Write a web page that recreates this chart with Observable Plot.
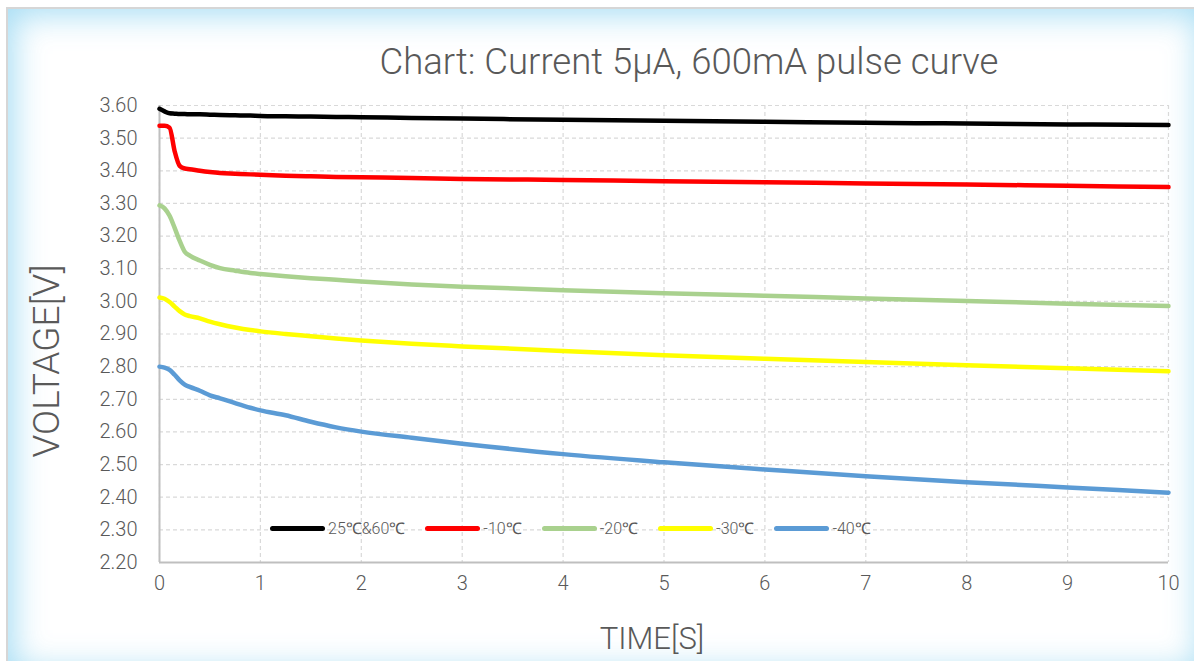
<!DOCTYPE html>
<html>
<head>
<meta charset="utf-8">
<script src="https://cdn.jsdelivr.net/npm/d3@7"></script>
<script src="https://cdn.jsdelivr.net/npm/@observablehq/plot@0.6"></script>
<style>
  html, body { margin: 0; padding: 0; width: 1194px; height: 661px; overflow: hidden; background: #fff; }
  #frame { position: absolute; left: 6px; top: 7px; width: 1200px; height: 670px; border: 2px solid #d6d6d6; box-sizing: border-box;
           box-shadow: inset 0 0 32px 6px rgba(150, 215, 242, 0.85); background: #fff; }
  #chart { position: absolute; left: 0; top: 0; }
  .txt { position: absolute; font-family: Roboto, "Liberation Sans", sans-serif; font-weight: 300; color: #595959; white-space: nowrap; }
  #title { left: 689px; top: 40px; transform: translateX(-50%); font-size: 36.5px; }
  #xlabel { left: 652px; top: 620px; transform: translateX(-50%); font-size: 31px; }
  #ylabel { left: 46px; top: 361px; font-size: 37px; transform: translate(-50%, -50%) rotate(-90deg); }
  #legend { position: absolute; left: 270px; top: 517px; display: flex; align-items: center; font-family: Roboto, "Liberation Sans", sans-serif; font-weight: 300; font-size: 16px; color: #595959; }
  .item { display: flex; align-items: center; margin-right: 20px; }
  .sw { width: 55px; height: 5px; border-radius: 3px; margin-right: 3px; }
</style>
</head>
<body>
<div id="frame"></div>
<div id="chart"></div>
<div class="txt" id="title">Chart: Current 5μA, 600mA pulse curve</div>
<div class="txt" id="ylabel">VOLTAGE[V]</div>
<div class="txt" id="xlabel">TIME[S]</div>
<div id="legend"></div>
<script>
const seriesNames = ["25℃&60℃", "-10℃", "-20℃", "-30℃", "-40℃"];
const seriesColors = ["#000000", "#ff0000", "#a9d18e", "#ffff00", "#5b9bd5"];
const time = [0, 0.05, 0.1, 0.15, 0.2, 0.25, 0.3, 0.4, 0.5, 0.6, 0.75, 0.9, 1, 1.25, 1.5, 1.75, 2, 2.5, 3, 4, 5, 6, 7, 8, 9, 10];
const v25 = [3.590, 3.582, 3.576, 3.575, 3.574, 3.574, 3.573, 3.573, 3.572, 3.571, 3.570, 3.569, 3.568, 3.567, 3.566, 3.565, 3.564, 3.562, 3.560, 3.556, 3.553, 3.550, 3.547, 3.545, 3.542, 3.540];
const vM10 = [3.538, 3.538, 3.532, 3.460, 3.415, 3.407, 3.405, 3.400, 3.396, 3.393, 3.391, 3.389, 3.388, 3.385, 3.383, 3.381, 3.380, 3.378, 3.375, 3.372, 3.368, 3.365, 3.361, 3.358, 3.354, 3.350];
const vM20 = [3.294, 3.285, 3.262, 3.225, 3.185, 3.152, 3.140, 3.125, 3.112, 3.102, 3.094, 3.087, 3.084, 3.077, 3.071, 3.066, 3.061, 3.052, 3.045, 3.034, 3.025, 3.017, 3.009, 3.001, 2.993, 2.986];
const vM30 = [3.012, 3.008, 2.998, 2.984, 2.970, 2.960, 2.955, 2.948, 2.938, 2.930, 2.920, 2.912, 2.908, 2.900, 2.893, 2.886, 2.880, 2.870, 2.862, 2.848, 2.835, 2.824, 2.814, 2.804, 2.795, 2.786];
const vM40 = [2.800, 2.797, 2.790, 2.775, 2.758, 2.745, 2.738, 2.726, 2.712, 2.703, 2.688, 2.674, 2.666, 2.651, 2.631, 2.614, 2.601, 2.582, 2.564, 2.532, 2.507, 2.485, 2.464, 2.446, 2.430, 2.414];
const xTicks = [0, 1, 2, 3, 4, 5, 6, 7, 8, 9, 10];
const yTicks = [2.2, 2.3, 2.4, 2.5, 2.6, 2.7, 2.8, 2.9, 3.0, 3.1, 3.2, 3.3, 3.4, 3.5, 3.6];

const allSeries = [v25, vM10, vM20, vM30, vM40];
const rows = [];
allSeries.forEach((vals, i) => vals.forEach((v, j) => rows.push({t: time[j], v, s: seriesNames[i]})));

const font = "Roboto, 'Liberation Sans', sans-serif";
const chart = Plot.plot({
  width: 1194, height: 661,
  marginLeft: 159, marginRight: 26, marginTop: 105, marginBottom: 99,
  style: {background: "transparent", fontFamily: font, overflow: "visible"},
  x: {domain: [0, 10]},
  y: {domain: [2.2, 3.6]},
  color: {domain: seriesNames, range: seriesColors},
  marks: [
    Plot.gridY(yTicks, {stroke: "#d9d9d9", strokeOpacity: 1, strokeWidth: 1.2, strokeDasharray: "4,3"}),
    Plot.gridX(xTicks, {stroke: "#d9d9d9", strokeOpacity: 1, strokeWidth: 1.2, strokeDasharray: "4,3"}),
    Plot.ruleX([0], {stroke: "#bfbfbf", strokeWidth: 2}),
    Plot.ruleY([2.2], {stroke: "#bfbfbf", strokeWidth: 2}),
    Plot.axisY(yTicks, {tickSize: 0, tickPadding: 22, tickFormat: d => d.toFixed(2), fontSize: 20, fill: "#595959", fontWeight: 300, label: null}),
    Plot.axisX(xTicks, {tickSize: 0, tickPadding: 13, tickFormat: d => String(d), fontSize: 20, fill: "#595959", fontWeight: 300, label: null}),
    Plot.line(rows, {x: "t", y: "v", z: "s", stroke: "s", strokeWidth: 4.5, curve: "monotone-x", strokeLinecap: "round", strokeLinejoin: "round"})
  ]
});
document.getElementById("chart").appendChild(chart);

const legend = document.getElementById("legend");
seriesNames.forEach((n, i) => {
  const it = document.createElement("div"); it.className = "item";
  const sw = document.createElement("div"); sw.className = "sw"; sw.style.background = seriesColors[i];
  const lb = document.createElement("span"); lb.textContent = n;
  it.appendChild(sw); it.appendChild(lb); legend.appendChild(it);
});
</script>
</body>
</html>
